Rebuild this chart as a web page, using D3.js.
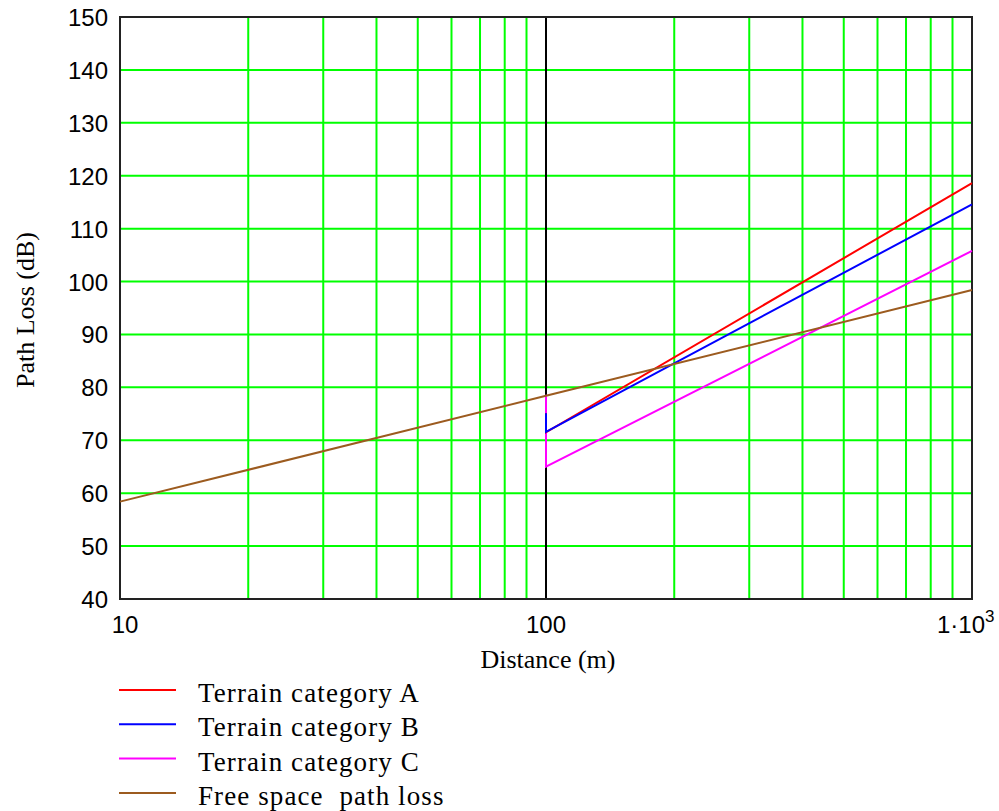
<!DOCTYPE html>
<html>
<head>
<meta charset="utf-8">
<script src="https://cdn.jsdelivr.net/npm/d3@7"></script>
<style>
  body { margin: 0; background: #fff; }
  svg { display: block; }
</style>
</head>
<body>
<div id="chart"></div>
<script>
// values
var distance = [100, 100, 1000];
var terrainA = [75.1, 71.5, 118.6];
var terrainB = [75.1, 71.6, 114.6];
var terrainC = [78.6, 65.0, 105.8];
var freeDistance = [10, 100, 1000];
var freeSpace = [58.4, 78.4, 98.4];

var yTicks = [40, 50, 60, 70, 80, 90, 100, 110, 120, 130, 140, 150];
var xGrid = [20, 30, 40, 50, 60, 70, 80, 90, 200, 300, 400, 500, 600, 700, 800, 900];
var legendNames = ["Terrain category A", "Terrain category B", "Terrain category C", "Free space  path loss"];
var colors = ["#ff0000", "#0000ff", "#ff00ff", "#9c5b1f"];

function init() {
    var w = 999;
    var h = 811;
    var left = 120, right = 972, top = 17, bottom = 599;

    var svg = d3.select("#chart")
        .append("svg")
        .attr("width", w)
        .attr("height", h);

    var x = d3.scaleLog().domain([10, 1000]).range([left, right]);
    var y = d3.scaleLinear().domain([40, 150]).range([bottom, top]);

    // green grid
    svg.selectAll(".hgrid")
        .data(yTicks)
        .enter()
        .append("line")
        .attr("x1", left).attr("x2", right)
        .attr("y1", function(d) { return y(d); })
        .attr("y2", function(d) { return y(d); })
        .attr("stroke", "#00ff00")
        .attr("stroke-width", 2);

    svg.selectAll(".vgrid")
        .data(xGrid)
        .enter()
        .append("line")
        .attr("y1", top).attr("y2", bottom)
        .attr("x1", function(d) { return x(d); })
        .attr("x2", function(d) { return x(d); })
        .attr("stroke", "#00ff00")
        .attr("stroke-width", 2);

    // axis line at 100
    svg.append("line")
        .attr("x1", x(100)).attr("x2", x(100))
        .attr("y1", top).attr("y2", bottom)
        .attr("stroke", "#000")
        .attr("stroke-width", 2);

    // frame
    svg.append("rect")
        .attr("x", left).attr("y", top)
        .attr("width", right - left).attr("height", bottom - top)
        .attr("fill", "none")
        .attr("stroke", "#222")
        .attr("stroke-width", 2);

    var line = d3.line()
        .x(function(d) { return x(d[0]); })
        .y(function(d) { return y(d[1]); });

    var series = [
        d3.zip(distance, terrainA),
        d3.zip(distance, terrainB),
        d3.zip(distance, terrainC),
        d3.zip(freeDistance, freeSpace)
    ];
    // draw C underneath so the short A/B drops at 100 m stay visible
    var order = [2, 0, 1, 3];

    svg.selectAll(".series")
        .data(order)
        .enter()
        .append("path")
        .attr("d", function(i) { return line(series[i]); })
        .attr("fill", "none")
        .attr("stroke", function(i) { return colors[i]; })
        .attr("stroke-width", 2);

    // y tick labels
    svg.selectAll(".ylab")
        .data(yTicks)
        .enter()
        .append("text")
        .text(function(d) { return d; })
        .attr("x", 108)
        .attr("y", function(d) { return y(d) + 9; })
        .attr("text-anchor", "end")
        .attr("font-family", "Liberation Sans, Arial, sans-serif")
        .attr("font-size", 24)
        .attr("fill", "#000");

    // x tick labels
    var xl = svg.append("g")
        .attr("font-family", "Liberation Sans, Arial, sans-serif")
        .attr("font-size", 24)
        .attr("fill", "#000");
    xl.append("text").text("10").attr("x", x(10) + 5).attr("y", 633).attr("text-anchor", "middle");
    xl.append("text").text("100").attr("x", x(100)).attr("y", 633).attr("text-anchor", "middle");
    var t3 = xl.append("text").attr("x", x(1000) - 35).attr("y", 633);
    t3.append("tspan").text("1\u00b7" + "10");
    t3.append("tspan").text("3").attr("font-size", 17).attr("dy", -11);

    // axis titles
    svg.append("text")
        .text("Distance (m)")
        .attr("x", 548)
        .attr("y", 668)
        .attr("text-anchor", "middle")
        .attr("font-family", "Liberation Serif, Times New Roman, serif")
        .attr("font-size", 26);

    svg.append("text")
        .text("Path Loss (dB)")
        .attr("transform", "translate(34,310) rotate(-90)")
        .attr("text-anchor", "middle")
        .attr("font-family", "Liberation Serif, Times New Roman, serif")
        .attr("font-size", 26);

    // legend
    var leg = svg.selectAll(".leg")
        .data(legendNames)
        .enter()
        .append("g")
        .attr("transform", function(d, i) { return "translate(0," + (690 + i * 34.3) + ")"; });

    leg.append("line")
        .attr("x1", 119).attr("x2", 176)
        .attr("y1", 0).attr("y2", 0)
        .attr("stroke", function(d, i) { return colors[i]; })
        .attr("stroke-width", 2);

    leg.append("text")
        .text(function(d) { return d; })
        .attr("x", 198)
        .attr("y", 12)
        .attr("font-family", "Liberation Serif, Times New Roman, serif")
        .attr("font-size", 27)
        .attr("letter-spacing", 1.1)
        .style("white-space", "pre");
}

window.onload = init;
</script>
</body>
</html>
